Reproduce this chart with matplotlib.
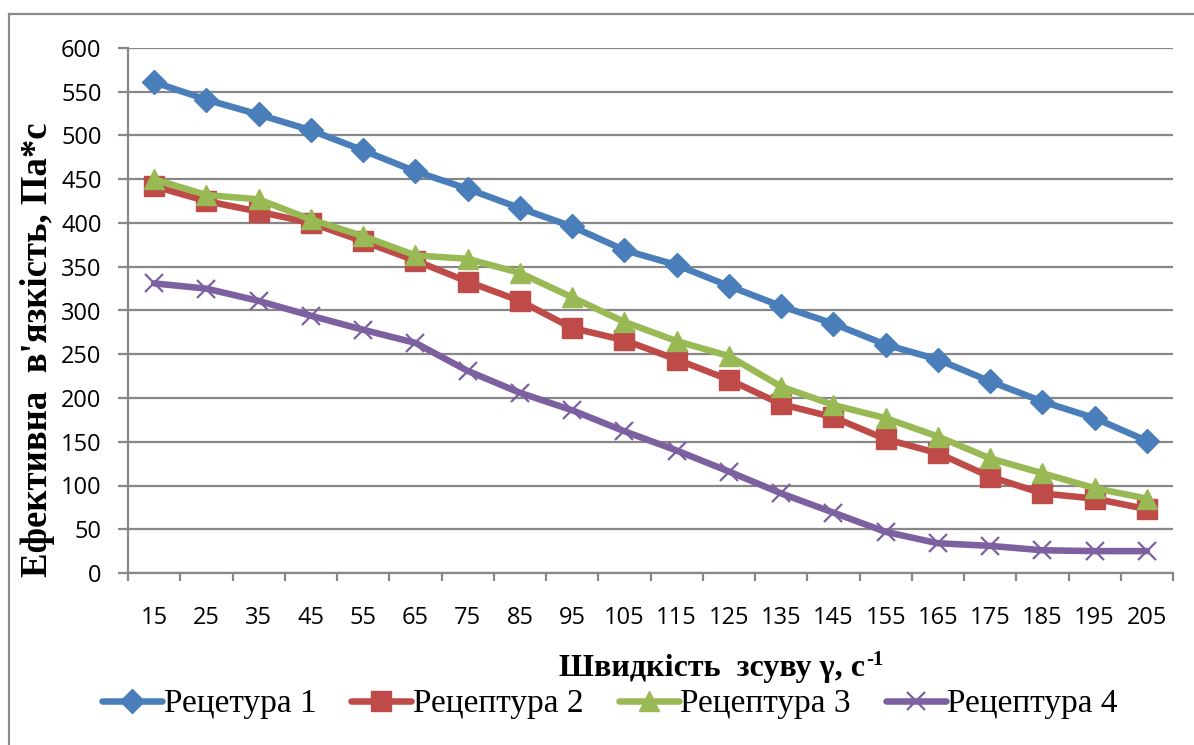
import numpy as np
import matplotlib
matplotlib.use("Agg")
import matplotlib.pyplot as plt
from matplotlib.patches import Rectangle
from matplotlib.transforms import offset_copy

# Shear rate (1/s) and effective viscosity (Pa*s) for four recipes
shear_rate = ['15', '25', '35', '45', '55', '65', '75', '85', '95', '105',
              '115', '125', '135', '145', '155', '165', '175', '185', '195', '205']
recipe_1 = [561, 541, 524, 506, 483, 459, 439, 417, 396, 369,
            352, 328, 305, 285, 261, 244, 219, 196, 177, 151]
recipe_2 = [442, 425, 413, 400, 379, 357, 333, 311, 280, 266,
            244, 221, 193, 178, 153, 137, 110, 91, 85, 73]
recipe_3 = [450, 432, 427, 404, 385, 363, 359, 343, 315, 287,
            265, 248, 213, 192, 177, 156, 131, 114, 97, 85]
recipe_4 = [331, 325, 311, 294, 278, 263, 231, 206, 186, 162,
            140, 116, 91, 69, 47, 34, 31, 26, 25, 25]
series_names = ['Рецетура 1', 'Рецептура 2', 'Рецептура 3', 'Рецептура 4']
y_ticks = list(range(0, 601, 50))

W, H = 1194, 745
fig = plt.figure(figsize=(W / 100, H / 100), dpi=100)
fig.patch.set_facecolor('white')

# chart frame, only its top and left edges fall inside the image
fig.add_artist(Rectangle((9 / W, -0.2), 1.5, 1.2 - 14 / H, transform=fig.transFigure,
                         fill=False, ec='#8a8a8a', lw=1.6))

ax = fig.add_axes([128 / W, 1 - 573 / H, (1173 - 128) / W, (573 - 48) / H])

grey = '#878787'
styles = [
    (recipe_1, '#4A7EBB', 'D', 12, 1),
    (recipe_2, '#BE4B48', 's', 14, 1),
    (recipe_3, '#98B954', '^', 14, 1),
    (recipe_4, '#7D60A0', 'x', 13, 1.6),
]
for (vals, col, mk, ms, mew), name in zip(styles, series_names):
    ax.plot(shear_rate, vals, color=col, lw=4.7, marker=mk, ms=ms,
            mfc=col, mec=col, mew=mew, label=name, solid_joinstyle='round',
            solid_capstyle='round', clip_on=False, zorder=3)

ax.set_xlim(-0.5, len(shear_rate) - 0.5)
ax.set_ylim(0, 600)
ax.set_yticks(y_ticks)
ax.set_xticks(np.arange(-0.5, len(shear_rate)), minor=True)

ax.yaxis.grid(True, color=grey, lw=1.6)
ax.set_axisbelow(True)
for side in ('top', 'right'):
    ax.spines[side].set_visible(False)
for side in ('left', 'bottom'):
    ax.spines[side].set_color(grey)
    ax.spines[side].set_linewidth(1.6)

ax.tick_params(axis='x', which='major', length=0, pad=24, labelsize=17)
ax.tick_params(axis='x', which='minor', length=6, width=1.6, color=grey, direction='out')
ax.tick_params(axis='y', length=7, width=1.6, color=grey, pad=12, labelsize=17)
for lab in ax.get_xticklabels() + ax.get_yticklabels():
    lab.set_fontfamily('Open Sans')

title_font = dict(fontweight='bold', family='Liberation Serif')
fig.text(38 / W, 1 - 350 / H, "Ефективна  в'язкість, Па*с", rotation=90,
         ha='center', va='center', fontsize=26.5, **title_font)

# x axis title with a small "-1" superscript after it
xt = fig.text(712 / W, 1 - 676 / H, 'Швидкість  зсуву γ, с', ha='center',
              va='baseline', fontsize=23, **title_font)
fig.canvas.draw()
bb = xt.get_window_extent()
fig.text(bb.x1 / W + 1 / W, 1 - 676 / H, '-1', va='baseline', fontsize=15,
         transform=offset_copy(fig.transFigure, fig=fig, x=0, y=11, units='dots'),
         **title_font)

leg = fig.legend(loc='center', bbox_to_anchor=(610 / W, 1 - 704 / H), ncol=4,
                 frameon=False, prop={'family': 'Liberation Serif', 'size': 24},
                 handlelength=1.8, handletextpad=0.05, columnspacing=1.05,
                 borderpad=0, borderaxespad=0)

fig.savefig('out.png', dpi=100)
